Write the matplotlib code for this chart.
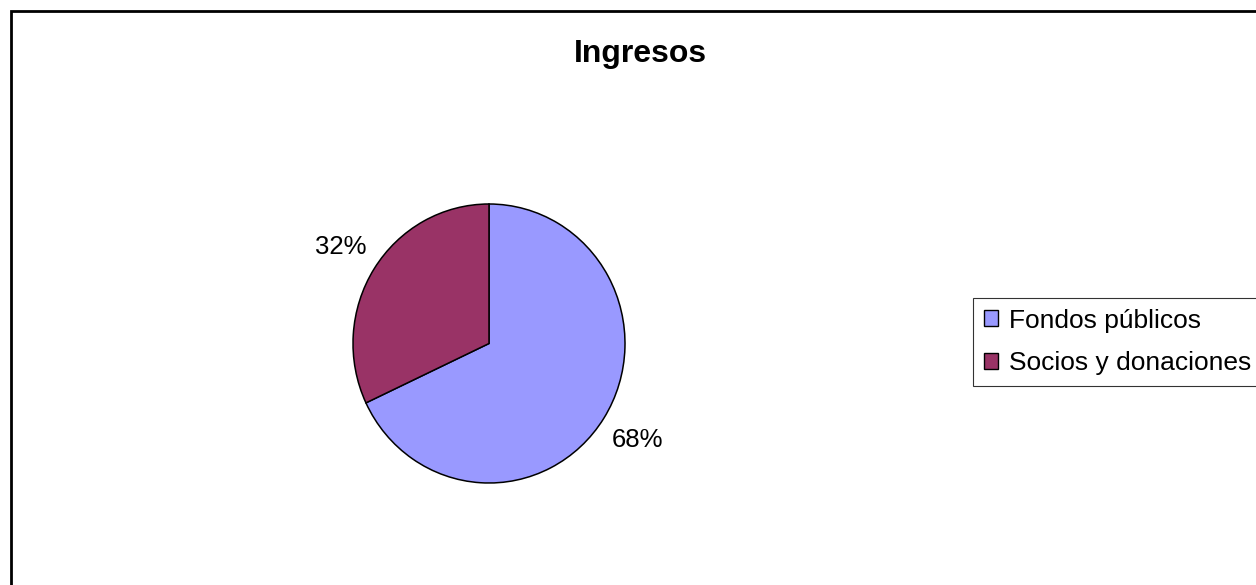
import matplotlib
matplotlib.use("Agg")
import matplotlib.pyplot as plt
from matplotlib.patches import Patch, Rectangle

plt.rcParams['font.family'] = ['Liberation Sans', 'DejaVu Sans']

# Données
categories = ["Fondos públicos", "Socios y donaciones"]
valeurs = [68, 32]
couleurs = ["#9999FF", "#993366"]
titre = "Ingresos"

W, H = 1256, 585
fig = plt.figure(figsize=(W / 100, H / 100), dpi=100)

# Cadre du graphique (coins droit et bas hors image)
cadre = Rectangle((11 / W, -20 / H), 1300 / W, (H - 11 + 20) / H,
                  transform=fig.transFigure, fill=False,
                  edgecolor="black", linewidth=2.0, clip_on=False)
fig.patches.append(cadre)

# Titre
fig.text(640 / W, (H - 62) / H, titre, ha="center", va="baseline",
         fontsize=23, fontweight="bold")

# Camembert
gauche, droite, haut, bas = 353, 625, 204, 483
ax = fig.add_axes([gauche / W, (H - bas) / H, (droite - gauche) / W, (bas - haut) / H])
wedges, textes, pcts = ax.pie(
    valeurs, colors=couleurs, startangle=90, counterclock=False,
    autopct="%1.0f%%", pctdistance=1.29,
    wedgeprops=dict(edgecolor="black", linewidth=1.1),
    textprops=dict(fontsize=18.5, color="black"),
)
ax.set_aspect("auto")
ax.set_xlim(-1, 1)
ax.set_ylim(-1, 1)
ax.axis("off")

# Légende
poignees = [Patch(facecolor=c, edgecolor="black", linewidth=1.0) for c in couleurs]
leg = fig.legend(
    poignees, categories, loc="upper left",
    bbox_to_anchor=(973 / W, (H - 298) / H), bbox_transform=fig.transFigure,
    fontsize=19, frameon=True, fancybox=False, shadow=False,
    handlelength=0.55, handleheight=0.55, handletextpad=0.4,
    borderpad=0.4, labelspacing=0.7, borderaxespad=0,
)
leg.get_frame().set_edgecolor("black")
leg.get_frame().set_linewidth(0.8)

fig.savefig("out.png", dpi=100)
